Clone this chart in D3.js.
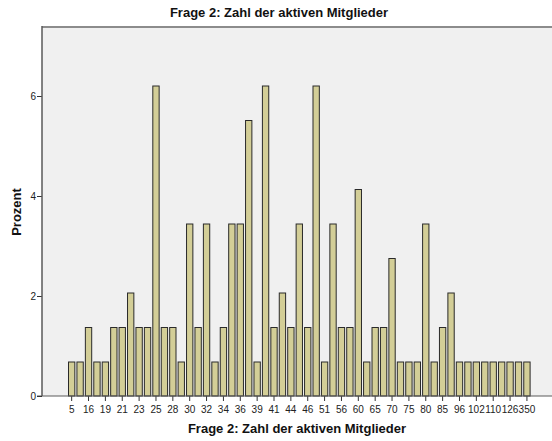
<!DOCTYPE html>
<html>
<head>
<meta charset="utf-8">
<script src="https://cdn.jsdelivr.net/npm/d3@7"></script>
<style>
  body { margin: 0; background: #fff; }
  svg { display: block; font-family: "Liberation Sans", Arial, sans-serif; }
</style>
</head>
<body>
<div id="chart"></div>
<script>
(function () {
  const W = 552, H = 441;
  // categories (number of active members) and percent values
  const categories = ['5', '10', '16', '18', '19', '20', '21', '22', '23', '24', '25', '26', '28', '29',
    '30', '31', '32', '33', '34', '35', '36', '38', '39', '40', '41', '42', '44', '45', '46', '50',
    '51', '55', '56', '58', '60', '62', '65', '68', '70', '72', '75', '78', '80', '84', '85', '90',
    '96', '100', '102', '108', '110', '120', '126', '200', '350'];
  const percents = [0.69, 0.69, 1.38, 0.69, 0.69, 1.38, 1.38, 2.07, 1.38, 1.38, 6.21, 1.38, 1.38, 0.69,
    3.45, 1.38, 3.45, 0.69, 1.38, 3.45, 3.45, 5.52, 0.69, 6.21, 1.38, 2.07, 1.38, 3.45, 1.38, 6.21,
    0.69, 3.45, 1.38, 1.38, 4.14, 0.69, 1.38, 1.38, 2.76, 0.69, 0.69, 0.69, 3.45, 0.69, 1.38, 2.07,
    0.69, 0.69, 0.69, 0.69, 0.69, 0.69, 0.69, 0.69, 0.69];
  const yTicks = [0, 2, 4, 6];
  const tickLabels = categories.filter((d, i) => i % 2 === 0);

  const left = 42, top = 27, bottom = 396;
  const svg = d3.select('#chart').append('svg').attr('width', W).attr('height', H);

  svg.append('rect').attr('x', left).attr('y', top).attr('width', W - left).attr('height', bottom - top)
    .attr('fill', '#f0f0f0');

  const x = d3.scaleBand().domain(categories).range([68, 530.6]).paddingInner(0.13).paddingOuter(0);
  const y = d3.scaleLinear().domain([0, 7.38]).range([bottom, top]);

  svg.append('g').selectAll('rect').data(categories).join('rect')
    .attr('x', (d) => x(d) + 0.5)
    .attr('y', (d, i) => y(percents[i]) + 0.5)
    .attr('width', x.bandwidth() - 1)
    .attr('height', (d, i) => bottom - y(percents[i]) - 0.5)
    .attr('fill', '#d3ce97')
    .attr('stroke', '#2a2a2a')
    .attr('stroke-width', 1);

  // frame lines
  svg.append('line').attr('x1', left).attr('x2', W).attr('y1', top).attr('y2', top)
    .attr('stroke', '#8c8c8c').attr('stroke-width', 2);

  const xAxis = svg.append('g').attr('transform', `translate(0,${bottom})`)
    .call(d3.axisBottom(x).tickValues(tickLabels).tickSize(5).tickSizeOuter(0));
  xAxis.select('.domain').remove();
  xAxis.append('line').attr('x1', left - 5).attr('x2', W).attr('stroke', '#5a5a5a').attr('stroke-width', 1.2);
  xAxis.selectAll('.tick line').attr('stroke', '#333');
  xAxis.selectAll('.tick text').attr('fill', '#222').attr('font-size', 10).attr('dy', '0.9em')
    .attr('font-family', '"Liberation Sans", Arial, sans-serif');

  const yAxis = svg.append('g').attr('transform', `translate(${left},0)`)
    .call(d3.axisLeft(y).tickValues(yTicks).tickSize(5).tickSizeOuter(0));
  yAxis.select('.domain').remove();
  yAxis.append('line').attr('y1', top - 1).attr('y2', bottom).attr('stroke', '#5a5a5a').attr('stroke-width', 1.5);
  yAxis.selectAll('.tick line').attr('stroke', '#333');
  yAxis.selectAll('.tick text').attr('fill', '#222').attr('font-size', 10).attr('x', -6)
    .attr('font-family', '"Liberation Sans", Arial, sans-serif');

  svg.append('text').attr('x', 279).attr('y', 17).attr('text-anchor', 'middle')
    .attr('font-size', 13).attr('font-weight', 'bold').attr('fill', '#111')
    .text('Frage 2: Zahl der aktiven Mitglieder');
  svg.append('text').attr('x', 297).attr('y', 433).attr('text-anchor', 'middle')
    .attr('font-size', 13).attr('font-weight', 'bold').attr('fill', '#111')
    .text('Frage 2: Zahl der aktiven Mitglieder');
  svg.append('text').attr('transform', `translate(21,212) rotate(-90)`).attr('text-anchor', 'middle')
    .attr('font-size', 13).attr('font-weight', 'bold').attr('fill', '#111')
    .text('Prozent');
})();
</script>
</body>
</html>
